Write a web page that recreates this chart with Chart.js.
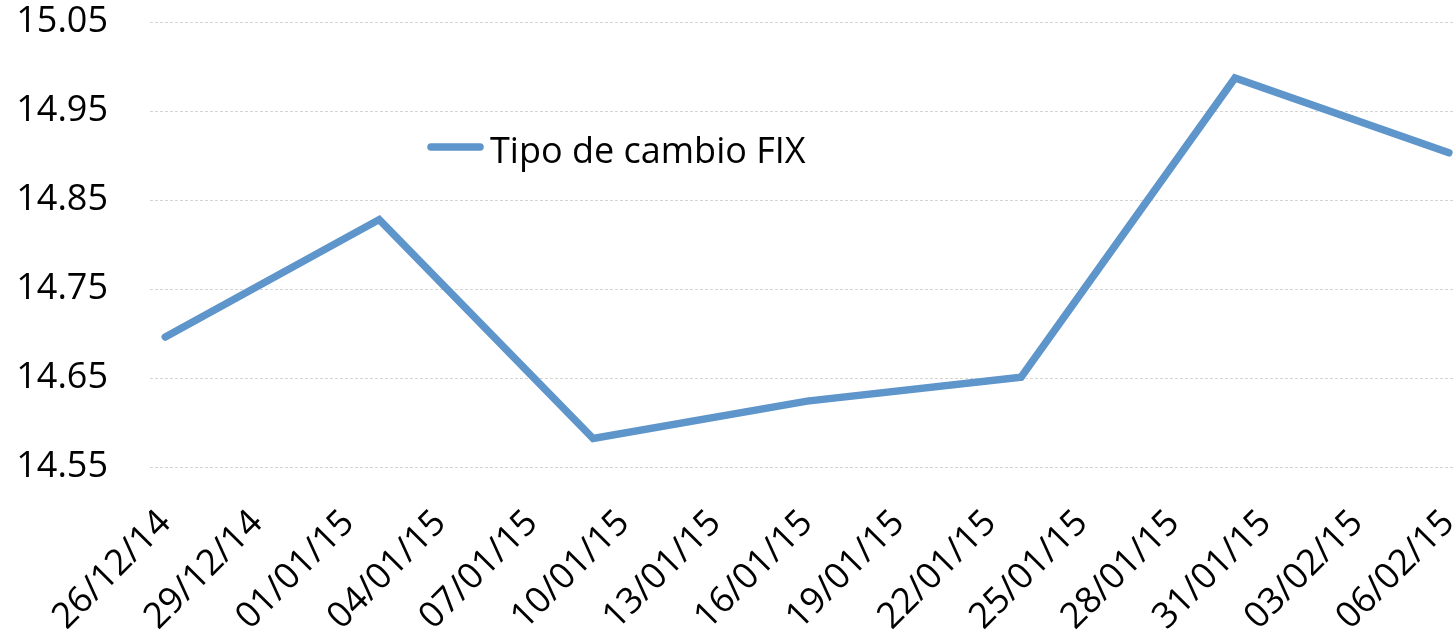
<!DOCTYPE html>
<html>
<head>
<meta charset="utf-8">
<script src="https://cdn.jsdelivr.net/npm/chart.js@4"></script>
<style>
    html, body { margin: 0; padding: 0; background: #fff; overflow: hidden; }
    #wrap { width: 1455px; height: 638px; }
</style>
</head>
<body>
<div id="wrap"><canvas id="fixChart" width="1455" height="638"></canvas></div>
<script>
// Weekly FIX exchange rate readings
const seriesLabel = 'Tipo de cambio FIX';
const obsDates = ['26/12/14', '02/01/15', '09/01/15', '16/01/15', '23/01/15', '30/01/15', '06/02/15'];
const fixValues = [14.696, 14.828, 14.582, 14.624, 14.651, 14.987, 14.903];

// Axis labels
const xTickLabels = ['26/12/14', '29/12/14', '01/01/15', '04/01/15', '07/01/15', '10/01/15', '13/01/15',
    '16/01/15', '19/01/15', '22/01/15', '25/01/15', '28/01/15', '31/01/15', '03/02/15', '06/02/15'];
const yTickValues = [14.55, 14.65, 14.75, 14.85, 14.95, 15.05];

// dd/mm/yy -> days since the first tick
const toDay = (s) => {
    const [d, m, y] = s.split('/').map(Number);
    return Date.UTC(2000 + y, m - 1, d) / 86400000;
};
const day0 = toDay(xTickLabels[0]);
const dayOffset = (s) => toDay(s) - day0;

Chart.defaults.font.family = '"Open Sans", sans-serif';
Chart.defaults.font.size = 36;
Chart.defaults.color = '#000';

// legend drawn inside the plot, like the original
const insideLegend = {
    id: 'insideLegend',
    afterDraw(chart) {
        const ctx = chart.ctx;
        const ds = chart.data.datasets[0];
        ctx.save();
        ctx.strokeStyle = ds.borderColor;
        ctx.lineWidth = ds.borderWidth;
        ctx.lineCap = 'round';
        ctx.beginPath();
        ctx.moveTo(431, 147);
        ctx.lineTo(480, 147);
        ctx.stroke();
        ctx.fillStyle = '#000';
        ctx.font = '36px "Open Sans", sans-serif';
        ctx.textBaseline = 'alphabetic';
        ctx.fillText(ds.label, 490, 163);
        ctx.restore();
    }
};

const ctx = document.getElementById('fixChart').getContext('2d');
new Chart(ctx, {
    type: 'line',
    data: {
        datasets: [{
            label: seriesLabel,
            data: obsDates.map((d, i) => ({ x: dayOffset(d), y: fixValues[i] })),
            borderColor: '#5E95CA',
            borderWidth: 7.5,
            borderCapStyle: 'round',
            borderJoinStyle: 'miter',
            pointRadius: 0,
            tension: 0,
            fill: false
        }]
    },
    options: {
        responsive: false,
        animation: false,
        layout: { padding: { left: 18, right: 0, top: 22, bottom: 0 } },
        scales: {
            x: {
                type: 'linear',
                min: -0.5,
                max: 42.2,
                grid: { display: false, drawTicks: false },
                border: { display: false },
                afterBuildTicks: (scale) => {
                    scale.ticks = xTickLabels.map(l => ({ value: dayOffset(l) }));
                },
                afterFit: (scale) => {
                    scale.paddingLeft = 0;
                    scale.paddingRight = 0;
                    scale.height = 171;
                },
                ticks: {
                    autoSkip: false,
                    minRotation: 45,
                    maxRotation: 45,
                    padding: 35,
                    callback: (v) => xTickLabels.find(l => dayOffset(l) === v) || ''
                }
            },
            y: {
                min: 14.55,
                max: 15.05,
                grid: {
                    color: '#d4d4d4',
                    lineWidth: 1,
                    drawTicks: false
                },
                border: { display: false, dash: [3, 2] },
                afterBuildTicks: (scale) => {
                    scale.ticks = yTickValues.map(v => ({ value: v }));
                },
                afterFit: (scale) => {
                    scale.paddingTop = 0;
                    scale.paddingBottom = 0;
                    scale.width = 132;
                },
                ticks: {
                    padding: 42,
                    callback: (v) => v.toFixed(2)
                }
            }
        },
        plugins: {
            legend: { display: false },
            tooltip: { enabled: false }
        }
    },
    plugins: [insideLegend]
});
</script>
</body>
</html>
